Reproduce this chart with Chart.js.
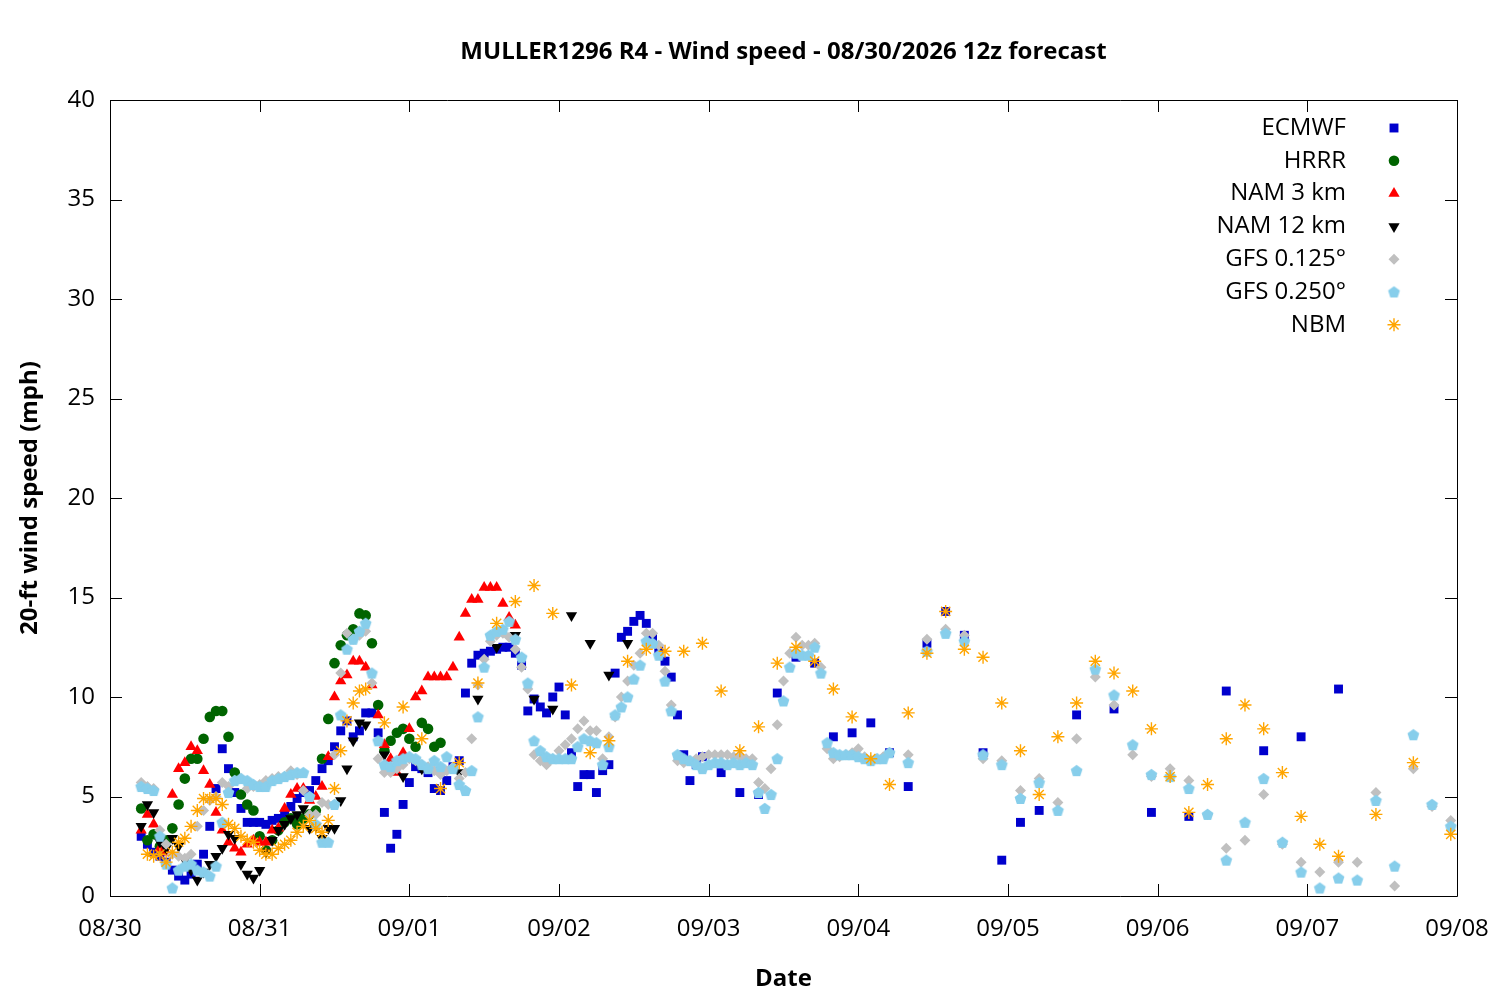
<!DOCTYPE html>
<html>
<head>
<meta charset="utf-8">
<title>MULLER1296 R4 - Wind speed</title>
<script src="https://cdn.jsdelivr.net/npm/chart.js@4.4.1/dist/chart.umd.min.js"></script>
<style>
  html, body { margin: 0; padding: 0; background: #fff; }
  canvas { display: block; }
</style>
</head>
<body>
<canvas id="windChart" width="1500" height="1000"></canvas>
<script>
// hours are counted from 08/30 00 (local), forecast starts at hour 5
function hourRange(start, end, step) {
    const out = [];
    for (let h = start; h <= end; h += step) out.push(h);
    return out;
}

const dateLabels = ['08/30', '08/31', '09/01', '09/02', '09/03', '09/04', '09/05', '09/06', '09/07', '09/08'];
const yTicks = [0, 5, 10, 15, 20, 25, 30, 35, 40];

const ecmwfHours = [...hourRange(5, 95, 1), ...hourRange(98, 149, 3), ...hourRange(155, 197, 6)];
const ecmwfSpeed = [
    3.0, 2.6, 2.2, 2.0, 1.7, 1.3, 1.0, 0.8, 1.1, 1.6,
    2.1, 3.5, 5.4, 7.4, 6.4, 5.2, 4.4, 3.7, 3.7, 3.7,
    3.6, 3.8, 3.9, 4.1, 4.5, 4.9, 5.2, 5.3, 5.8, 6.4,
    6.8, 7.5, 8.3, 8.8, 8.0, 8.3, 9.2, 9.2, 8.2, 4.2,
    2.4, 3.1, 4.6, 5.7, 6.5, 6.4, 6.2, 5.4, 5.3, 5.8,
    6.5, 6.8, 10.2, 11.7, 12.1, 12.2, 12.3, 12.4, 12.5, 12.5,
    12.2, 11.6, 9.3, 9.9, 9.5, 9.2, 10.0, 10.5, 9.1, 7.2,
    5.5, 6.1, 6.1, 5.2, 6.3, 6.6, 11.2, 13.0, 13.3, 13.8,
    14.1, 13.7, 13.0, 12.4, 11.8, 11.0, 9.1, 7.1, 5.8, 6.6,
    7.0,
    6.2, 5.2, 5.1, 10.2, 12.0, 11.7, 8.0, 8.2, 8.7, 7.2, 5.5, 12.7, 14.3, 13.1, 7.2, 1.8, 3.7, 4.3,
    9.1, 9.4, 4.2, 4.0, 10.3, 7.3, 8.0, 10.4
];

const hrrrHours = hourRange(5, 53, 1);
const hrrrSpeed = [
    4.4, 2.8, 3.1, 2.5, 2.8, 3.4, 4.6, 5.9, 6.9, 6.9,
    7.9, 9.0, 9.3, 9.3, 8.0, 6.2, 5.1, 4.6, 4.3, 3.0,
    2.3, 2.8, 3.3, 3.7, 3.9, 3.6, 3.9, 4.1, 4.3, 6.9,
    8.9, 11.7, 12.6, 13.1, 13.4, 14.2, 14.1, 12.7, 9.6, 7.3,
    7.8, 8.2, 8.4, 7.9, 7.5, 8.7, 8.4, 7.5, 7.7
];

const nam3Hours = hourRange(5, 65, 1);
const nam3Speed = [
    3.3, 4.1, 3.6, 2.4, 2.2, 5.1, 6.4, 6.7, 7.5, 7.3,
    6.3, 5.6, 4.2, 3.3, 2.7, 2.4, 2.2, 2.6, 2.8, 2.7,
    2.7, 3.3, 3.4, 4.4, 5.1, 5.4, 5.4, 4.8, 5.0, 5.5,
    7.0, 10.0, 10.8, 11.1, 11.8, 11.8, 11.5, 10.6, 9.1, 7.6,
    6.9, 6.2, 7.2, 8.4, 10.0, 10.3, 11.0, 11.0, 11.0, 11.0,
    11.5, 13.0, 14.2, 14.9, 14.9, 15.5, 15.5, 15.5, 14.7, 14.0,
    13.6
];

const nam12Hours = [...hourRange(5, 41, 1), ...hourRange(44, 83, 3)];
const nam12Speed = [
    3.5, 4.6, 4.2, 2.7, 2.4, 2.9, 2.5, 1.8, 1.3, 0.8,
    1.2, 1.6, 2.0, 2.4, 3.1, 2.9, 1.6, 1.1, 0.9, 1.3,
    2.2, 2.8, 3.3, 3.6, 3.9, 4.1, 4.4, 3.4, 3.5, 2.9,
    3.4, 3.4, 4.8, 6.4, 7.8, 8.7, 8.6,
    7.1, 6.0, 6.4, 6.3, 6.2, 9.9, 12.5, 13.1, 9.9, 9.4, 14.1, 12.7, 11.1, 12.7
];

const gfsHours = [...hourRange(5, 125, 1), ...hourRange(128, 215, 3)];
const gfs0125Speed = [
    5.7, 5.5, 5.4, 3.3, 2.6, 2.1, 2.0, 1.9, 2.1, 3.5,
    4.3, 4.8, 5.0, 5.7, 5.5, 5.8, 5.9, 5.4, 5.5, 5.6,
    5.8, 5.9, 6.0, 6.0, 6.3, 6.1, 5.3, 4.1, 4.1, 4.7,
    4.6, 7.1, 11.2, 13.2, 12.9, 13.1, 13.3, 10.7, 6.9, 6.2,
    6.2, 6.4, 6.6, 6.9, 6.8, 6.6, 6.5, 6.3, 6.1, 6.3,
    6.5, 5.9, 6.2, 7.9, 10.6, 11.9, 12.8, 13.1, 13.2, 13.0,
    12.4, 11.5, 10.4, 7.1, 6.8, 6.6, 6.9, 7.3, 7.6, 7.9,
    8.4, 8.8, 8.3, 8.3, 6.9, 8.0, 9.0, 10.0, 10.8, 11.6,
    12.2, 13.2, 13.2, 12.6, 11.3, 9.6, 6.8, 6.7, 6.8, 6.9,
    7.0, 7.1, 7.1, 7.1, 7.1, 7.0, 7.0, 6.9, 6.9, 5.7,
    5.4, 6.4, 8.6, 10.8, 12.2, 13.0, 12.6, 12.6, 12.7, 11.5,
    7.4, 6.9, 7.0, 7.1, 7.2, 7.4, 7.0, 6.8, 6.9, 7.0,
    7.2,
    7.1, 12.9, 13.4, 13.1, 6.9, 6.8, 5.3, 5.9, 4.7, 7.9,
    11.0, 9.6, 7.1, 6.0, 6.4, 5.8, 4.1, 2.4, 2.8, 5.1,
    2.6, 1.7, 1.2, 1.7, 1.7, 5.2, 0.5, 6.4, 4.5, 3.8
];
const gfs0250Speed = [
    5.5, 5.4, 5.3, 3.0, 1.6, 0.4, 1.3, 1.5, 1.6, 1.3,
    1.2, 1.0, 1.5, 3.7, 5.2, 5.8, 5.9, 5.8, 5.6, 5.5,
    5.5, 5.8, 5.9, 6.0, 6.1, 6.2, 6.2, 5.0, 3.6, 2.7,
    2.7, 4.6, 9.1, 12.4, 12.9, 13.3, 13.7, 11.2, 7.8, 6.6,
    6.5, 6.8, 6.9, 7.0, 6.9, 6.6, 6.4, 6.8, 6.5, 7.0,
    6.4, 5.6, 5.3, 6.3, 9.0, 11.5, 13.1, 13.3, 13.4, 13.8,
    12.9, 12.0, 10.7, 7.8, 7.3, 7.0, 6.9, 6.9, 6.9, 6.9,
    7.5, 7.9, 7.8, 7.7, 6.6, 7.5, 9.1, 9.5, 10.0, 10.9,
    11.6, 12.8, 12.7, 12.1, 10.8, 9.3, 7.1, 6.9, 6.8, 6.6,
    6.4, 6.6, 6.7, 6.7, 6.6, 6.7, 6.6, 6.7, 6.6, 5.2,
    4.4, 5.1, 6.9, 9.8, 11.5, 12.2, 12.1, 12.1, 12.5, 11.2,
    7.7, 7.2, 7.1, 7.1, 7.1, 7.0, 6.9, 6.8, 6.9, 6.9,
    7.2,
    6.7, 12.3, 13.2, 12.8, 7.1, 6.6, 4.9, 5.7, 4.3, 6.3,
    11.4, 10.1, 7.6, 6.1, 6.0, 5.4, 4.1, 1.8, 3.7, 5.9,
    2.7, 1.2, 0.4, 0.9, 0.8, 4.8, 1.5, 8.1, 4.6, 3.5
];

const nbmHours = [...hourRange(6, 41, 1), ...hourRange(44, 197, 3), ...hourRange(203, 215, 6)];
const nbmSpeed = [
    2.1, 2.0, 2.1, 1.7, 2.2, 2.7, 2.9, 3.5, 4.3, 4.9,
    4.9, 4.9, 4.6, 3.6, 3.4, 3.0, 2.8, 2.7, 2.3, 2.1,
    2.1, 2.4, 2.6, 2.8, 3.2, 3.5, 3.8, 3.4, 3.2, 3.8,
    5.4, 7.3, 8.8, 9.7, 10.3, 10.4,
    8.7, 9.5, 7.9, 5.4, 6.7, 10.7, 13.7, 14.8, 15.6, 14.2,
    10.6, 7.2, 7.8, 11.8, 12.4, 12.3, 12.3, 12.7, 10.3, 7.3,
    8.5, 11.7, 12.5, 11.8, 10.4, 9.0, 6.9, 5.6, 9.2, 12.2,
    14.3, 12.4, 12.0, 9.7, 7.3, 5.1, 8.0, 9.7, 11.8, 11.2,
    10.3, 8.4, 6.0, 4.2, 5.6, 7.9, 9.6, 8.4, 6.2, 4.0,
    2.6, 2.0,
    4.1, 6.7, 3.1
];

function toPoints(hours, values) {
    return values.map((v, i) => ({ x: hours[i], y: v }));
}

// gnuplot style pentagon for GFS 0.250
function pentagon(color, r) {
    const c = document.createElement('canvas');
    const s = Math.ceil(r * 2 + 2);
    c.width = s; c.height = s;
    const g = c.getContext('2d');
    g.fillStyle = color;
    g.beginPath();
    for (let i = 0; i < 5; i++) {
        const a = -Math.PI / 2 + i * 2 * Math.PI / 5;
        const px = s / 2 + r * Math.cos(a), py = s / 2 + r * Math.sin(a) + 0.5;
        if (i === 0) g.moveTo(px, py); else g.lineTo(px, py);
    }
    g.closePath();
    g.fill();
    return c;
}

const FONT = "'Open Sans', 'Noto Sans', sans-serif";

const datasets = [
    { label: 'ECMWF', data: toPoints(ecmwfHours, ecmwfSpeed), pointStyle: 'rect', pointRadius: 6.3,
      backgroundColor: '#0000cd', borderColor: '#0000cd', pointBorderWidth: 0, order: 7 },
    { label: 'HRRR', data: toPoints(hrrrHours, hrrrSpeed), pointStyle: 'circle', pointRadius: 5.3,
      backgroundColor: '#006400', borderColor: '#006400', pointBorderWidth: 0, order: 6 },
    { label: 'NAM 3 km', data: toPoints(nam3Hours, nam3Speed), pointStyle: 'triangle', pointRadius: 6.5,
      backgroundColor: '#ff0000', borderColor: '#ff0000', pointBorderWidth: 0, order: 5 },
    { label: 'NAM 12 km', data: toPoints(nam12Hours, nam12Speed), pointStyle: 'triangle', pointRotation: 180, pointRadius: 6.5,
      backgroundColor: '#000000', borderColor: '#000000', pointBorderWidth: 0, order: 4 },
    { label: 'GFS 0.125°', data: toPoints(gfsHours, gfs0125Speed), pointStyle: 'rectRot', pointRadius: 5.5,
      backgroundColor: '#c0c0c0', borderColor: '#c0c0c0', pointBorderWidth: 0, order: 3 },
    { label: 'GFS 0.250°', data: toPoints(gfsHours, gfs0250Speed), pointStyle: pentagon('#87ceeb', 6.2), pointRadius: 6,
      backgroundColor: '#87ceeb', borderColor: '#87ceeb', pointBorderWidth: 0, order: 2 },
    { label: 'NBM', data: toPoints(nbmHours, nbmSpeed), pointStyle: 'star', pointRadius: 6.5,
      backgroundColor: '#ffa500', borderColor: '#ffa500', pointBorderWidth: 1.4, order: 1 }
];

// box around the plot with inward ticks on all four sides
const framePlugin = {
    id: 'frame',
    afterDraw(chart) {
        const { ctx, chartArea: a, scales: { x, y } } = chart;
        const len = 12;
        ctx.save();
        ctx.strokeStyle = '#000';
        ctx.lineWidth = 1;
        ctx.beginPath();
        ctx.rect(Math.round(a.left) + 0.5, Math.round(a.top) + 0.5,
                 Math.round(a.right - a.left), Math.round(a.bottom - a.top));
        x.ticks.forEach(t => {
            const px = Math.round(x.getPixelForValue(t.value)) + 0.5;
            ctx.moveTo(px, a.bottom); ctx.lineTo(px, a.bottom - len);
            ctx.moveTo(px, a.top); ctx.lineTo(px, a.top + len);
        });
        y.ticks.forEach(t => {
            const py = Math.round(y.getPixelForValue(t.value)) + 0.5;
            ctx.moveTo(a.left, py); ctx.lineTo(a.left + len, py);
            ctx.moveTo(a.right, py); ctx.lineTo(a.right - len, py);
        });
        ctx.stroke();
        ctx.restore();
    }
};

// gnuplot-like key: label right aligned, symbol to its right
const keyPlugin = {
    id: 'key',
    afterDraw(chart) {
        const ctx = chart.ctx;
        const textRight = 1346, symX = 1394, top = 128, step = 32.8;
        ctx.save();
        ctx.font = "24px " + FONT;
        ctx.textAlign = 'right';
        ctx.textBaseline = 'middle';
        chart.data.datasets.forEach((ds, i) => {
            const yy = top + i * step;
            ctx.fillStyle = '#000';
            ctx.fillText(ds.label, textRight, yy);
            ctx.fillStyle = ds.backgroundColor;
            ctx.strokeStyle = ds.borderColor;
            ctx.lineWidth = ds.pointBorderWidth;
            Chart.helpers.drawPoint(ctx, {
                pointStyle: ds.pointStyle,
                rotation: ds.pointRotation || 0,
                radius: ds.pointRadius,
                borderWidth: ds.pointBorderWidth
            }, symX, yy);
        });
        ctx.restore();
    }
};

new Chart(document.getElementById('windChart').getContext('2d'), {
    type: 'scatter',
    data: { datasets: datasets },
    options: {
        responsive: false,
        animation: false,
        devicePixelRatio: 1,
        layout: { padding: { left: 0, right: 43, top: 0, bottom: 0 } },
        plugins: {
            legend: { display: false },
            tooltip: { enabled: false },
            title: {
                display: true,
                fullSize: false,
                text: 'MULLER1296 R4 - Wind speed - 08/30/2026 12z forecast',
                color: '#000',
                font: { family: FONT, size: 24, weight: 'bold' },
                padding: { top: 37.6, bottom: 33.6 }
            }
        },
        scales: {
            x: {
                type: 'linear',
                min: 0,
                max: 216,
                afterFit(scale) {
                    scale.height = 104;
                    scale.paddingLeft = 0;
                    scale.paddingRight = 0;
                },
                grid: { display: false, drawTicks: false },
                border: { display: false },
                ticks: {
                    stepSize: 24,
                    autoSkip: false,
                    maxRotation: 0,
                    padding: 19,
                    color: '#000',
                    font: { family: FONT, size: 24 },
                    callback: v => dateLabels[v / 24]
                },
                title: {
                    display: true,
                    text: 'Date',
                    color: '#000',
                    font: { family: FONT, size: 24, weight: 'bold' },
                    padding: { top: 0, bottom: 6.6 }
                }
            },
            y: {
                min: 0,
                max: 40,
                afterFit(scale) { scale.width = 110; },
                afterBuildTicks(scale) { scale.ticks = yTicks.map(v => ({ value: v })); },
                grid: { display: false, drawTicks: false },
                border: { display: false },
                ticks: {
                    padding: 15,
                    color: '#000',
                    font: { family: FONT, size: 24 }
                },
                title: {
                    display: true,
                    text: '20-ft wind speed (mph)',
                    color: '#000',
                    font: { family: FONT, size: 24, weight: 'bold' },
                    padding: { top: 15.6, bottom: 0 }
                }
            }
        }
    },
    plugins: [framePlugin, keyPlugin]
});
</script>
</body>
</html>
